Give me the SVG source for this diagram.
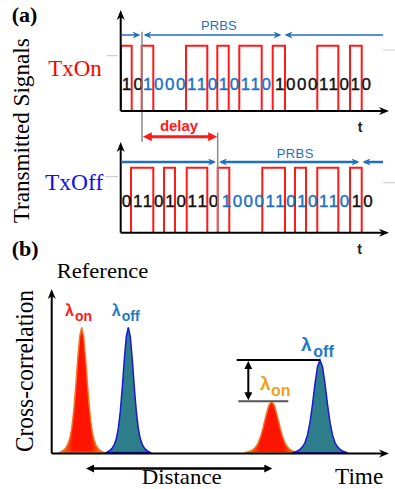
<svg xmlns="http://www.w3.org/2000/svg" width="395" height="489" viewBox="0 0 395 489">
<style>
.serif{font-family:"Liberation Serif","Times New Roman",serif;}
.sans{font-family:"Liberation Sans",Arial,sans-serif;}
.bits{font-family:"Liberation Sans",Arial,sans-serif;font-size:17px;stroke-width:0.4;}
.blk{fill:#111;stroke:#111;}
.blu{fill:#1a72c4;stroke:#1a72c4;}
.axis{stroke:#000;stroke-width:2;fill:none;}
.pulse{stroke:#ff1a1a;stroke-width:2;fill:none;}
.grey{stroke:#8a8a8a;stroke-width:1.5;fill:none;}
.tick{stroke:#cfcfcf;stroke-width:1.2;fill:none;}
.prbs{stroke:#1f6fbf;fill:none;}
.bpk{fill:#2e7d8b;stroke:#1a1ad6;stroke-width:1.5;}
.rpk{fill:url(#rg);stroke:#f07a20;stroke-width:1.5;}
</style>
<defs>
<marker id="ax" viewBox="0 0 10 10" markerUnits="userSpaceOnUse" markerWidth="10" markerHeight="10" refX="7" refY="5" orient="auto-start-reverse"><path d="M0,1 L10,5 L0,9 L3,5 z" fill="#000"/></marker>
<marker id="bl" viewBox="0 0 8 8" markerUnits="userSpaceOnUse" markerWidth="8" markerHeight="8" refX="6" refY="4" orient="auto-start-reverse"><path d="M0,0.5 L8,4 L0,7.5 L2.5,4 z" fill="#1f6fbf"/></marker>
<marker id="rd" viewBox="0 0 10 10" markerUnits="userSpaceOnUse" markerWidth="11" markerHeight="9" refX="5" refY="5" orient="auto-start-reverse"><path d="M0,0 L10,5 L0,10 z" fill="#ff1a1a"/></marker>
<marker id="bk" viewBox="0 0 10 10" markerUnits="userSpaceOnUse" markerWidth="9" markerHeight="8" refX="5" refY="5" orient="auto-start-reverse"><path d="M0,0 L10,5 L0,10 z" fill="#000"/></marker>
<linearGradient id="rg" x1="0" y1="0" x2="1" y2="0">
<stop offset="0" stop-color="#f08a20"/><stop offset="0.3" stop-color="#ff1400"/><stop offset="0.7" stop-color="#ff1400"/><stop offset="1" stop-color="#f08a20"/>
</linearGradient>
</defs>

<g id="labels-a">
<text class="serif" x="11.7" y="22" font-size="22" font-weight="bold">(a)</text>
<text class="serif" font-size="23" transform="translate(28.5,223.3) rotate(-90)" textLength="185" lengthAdjust="spacingAndGlyphs">Transmitted Signals</text>
<text class="serif" x="48.3" y="76" font-size="23" fill="#ff0000" textLength="53.4" lengthAdjust="spacingAndGlyphs">TxOn</text>
<text class="serif" x="45" y="190" font-size="23" fill="#1010f0" textLength="58.3" lengthAdjust="spacingAndGlyphs">TxOff</text>
</g>

<g id="txon">
<path class="tick" d="M106.7,55.7 H118 M383,50 H395"/>
<path class="pulse" d="M121,111 V45.7 H131.7 V111 M141.7,111 V45.7 H153.3 V111 M186,111 V45.7 H207.3 V111 M217.3,111 V45.7 H228.7 V111 M239.3,111 V45.7 H261.7 V111 M272.7,111 V45.7 H285 V111 M317.3,111 V45.7 H338.3 V111 M350,111 V45.7 H361.7 V111"/>
<text class="bits blk" x="121.7" y="90" textLength="21.3">10</text>
<text class="bits blu" x="143" y="90" textLength="128">100011010110</text>
<text class="bits blk" x="275" y="90" textLength="96">100011010</text>
<text class="sans" x="201" y="30" font-size="13" fill="#1f6fbf" textLength="35.7">PRBS</text>
<text class="sans" x="357.8" y="131.7" font-size="14" font-weight="bold" fill="#222">t</text>
</g>

<g id="txoff">
<path class="tick" d="M105,176.7 H118 M383.3,182.7 H395"/>
<path class="pulse" d="M131,232.7 V167.7 H153.3 V232.7 M164,232.7 V167.7 H175 V232.7 M186.7,232.7 V167.7 H207.3 V232.7 M217.7,232.7 V167.7 H229.3 V232.7 M262.3,232.7 V167.7 H285 V232.7 M295,232.7 V167.7 H306 V232.7 M317.3,232.7 V167.7 H338.3 V232.7 M350,232.7 V167.7 H361.7 V232.7"/>
<text class="bits blk" x="121.7" y="206.5" textLength="96.5">011010110</text>
<text class="bits blu" x="221.7" y="206.5" textLength="127.5">100011010110</text>
<text class="bits blk" x="351.7" y="206.5" textLength="21">10</text>
<text class="sans" x="276.7" y="157.5" font-size="13" fill="#1f6fbf" textLength="36.6">PRBS</text>
<text class="sans" x="357.3" y="254" font-size="14" font-weight="bold" fill="#222">t</text>
<text class="sans" x="160" y="130.5" font-size="15" font-weight="bold" fill="#ff1a1a" textLength="38">delay</text>
</g>

<g id="panel-b">
<text class="serif" x="11.7" y="256" font-size="22" font-weight="bold">(b)</text>
<text class="serif" x="56.7" y="278" font-size="21" textLength="91.6" lengthAdjust="spacingAndGlyphs">Reference</text>
<text class="serif" font-size="25" transform="translate(33,452) rotate(-90)" textLength="162" lengthAdjust="spacingAndGlyphs">Cross-correlation</text>
<text class="serif" x="335" y="483.5" font-size="23" textLength="48.3" lengthAdjust="spacingAndGlyphs">Time</text>
<text class="serif" x="141.7" y="484" font-size="21" textLength="80" lengthAdjust="spacingAndGlyphs">Distance</text>
<polygon class="rpk" points="59.7,452.6 61.7,451.4 63.7,450.1 65.7,448 67.7,444.6 69.7,438.8 71.7,428.4 73.7,411.4 75.7,387.2 77.7,359.5 79.7,336.6 81.7,327.5 83.7,336.6 85.7,359.5 87.7,387.2 89.7,411.4 91.7,428.4 93.7,438.8 95.7,444.6 97.7,448 99.7,450.1 101.7,451.4 103.7,452.6"/>
<polygon class="bpk" points="106.3,452.6 108.3,451.4 110.3,450.1 112.3,448 114.3,444.6 116.3,438.8 118.3,428.4 120.3,411.4 122.3,387.2 124.3,359.5 126.3,336.6 128.3,327.5 130.3,336.6 132.3,359.5 134.3,387.2 136.3,411.4 138.3,428.4 140.3,438.8 142.3,444.6 144.3,448 146.3,450.1 148.3,451.4 150.3,452.6"/>
<polygon class="rpk" points="244.6,452.8 247.3,452.1 250,451.2 252.7,449.8 255.4,447.4 258.1,443.2 260.8,436.1 263.5,426.1 266.2,414.7 268.9,405.2 271.6,401.5 274.3,405.2 277,414.7 279.7,426.1 282.4,436.1 285.1,443.2 287.8,447.4 290.5,449.8 293.2,451.2 295.9,452.1 298.6,452.8"/>
<polygon class="bpk" points="292.5,452.8 295,451.9 297.5,451 300,449.4 302.5,446.9 305,442.6 307.5,434.9 310,422.3 312.5,404.3 315,383.7 317.5,366.7 320,360 322.5,366.7 325,383.7 327.5,404.3 330,422.3 332.5,434.9 335,442.6 337.5,446.9 340,449.4 342.5,451 345,451.9 347.5,452.8"/>
<text class="sans" x="65" y="316" font-size="16" font-weight="bold" fill="#ff1a1a">λ</text>
<text class="sans" x="75" y="320.5" font-size="14" font-weight="bold" fill="#ff1a1a">on</text>
<text class="sans" x="111.7" y="316" font-size="16" font-weight="bold" fill="#1e78c8">λ</text>
<text class="sans" x="121.7" y="321" font-size="14" font-weight="bold" fill="#1e78c8">off</text>
<text class="sans" x="301" y="351" font-size="19" font-weight="bold" fill="#1e78c8">λ</text>
<text class="sans" x="313.3" y="357" font-size="16" font-weight="bold" fill="#1e78c8">off</text>
<text class="sans" x="260" y="390" font-size="19" font-weight="bold" fill="#f0a020">λ</text>
<text class="sans" x="271" y="396" font-size="16" font-weight="bold" fill="#f0a020">on</text>
</g>

<g id="connectors">
<path class="grey" d="M142,31.7 V142 M217.7,132.7 V233"/>
<path class="axis" d="M120.7,111 V13" marker-end="url(#ax)"/>
<path class="axis" d="M120.7,111 H386" marker-end="url(#ax)"/>
<path class="axis" d="M120.7,232.7 V145" marker-end="url(#ax)"/>
<path class="axis" d="M120.7,232.7 H386" marker-end="url(#ax)"/>
<path class="prbs" stroke-width="1.5" d="M121,35 H138.5" marker-end="url(#bl)"/>
<path class="prbs" stroke-width="1.5" d="M145.5,35 H279.5" marker-start="url(#bl)" marker-end="url(#bl)"/>
<path class="prbs" stroke-width="1.5" d="M286.5,35 H383" marker-start="url(#bl)"/>
<path class="prbs" stroke-width="2.5" d="M121,162 H214" marker-end="url(#bl)"/>
<path class="prbs" stroke-width="2.5" d="M221,162 H357.5" marker-start="url(#bl)" marker-end="url(#bl)"/>
<path class="prbs" stroke-width="2.5" d="M364.5,162 H383" marker-start="url(#bl)"/>
<path d="M147.3,136.7 H212.7" stroke="#ff1a1a" stroke-width="3" marker-start="url(#rd)" marker-end="url(#rd)"/>
<path class="axis" d="M51.7,453.5 V292" marker-end="url(#ax)"/>
<path class="axis" d="M51.7,453.5 H386" marker-end="url(#ax)"/>
<path d="M90,468.5 H268.3" stroke="#000" stroke-width="2.5" marker-start="url(#bk)" marker-end="url(#bk)"/>
<path d="M236.7,360 H320" stroke="#000" stroke-width="2"/>
<path d="M238.3,401.3 H288.3" stroke="#555" stroke-width="2"/>
<path d="M248.3,365 V396.3" stroke="#000" stroke-width="2" marker-start="url(#bk)" marker-end="url(#bk)"/>
</g>
</svg>
